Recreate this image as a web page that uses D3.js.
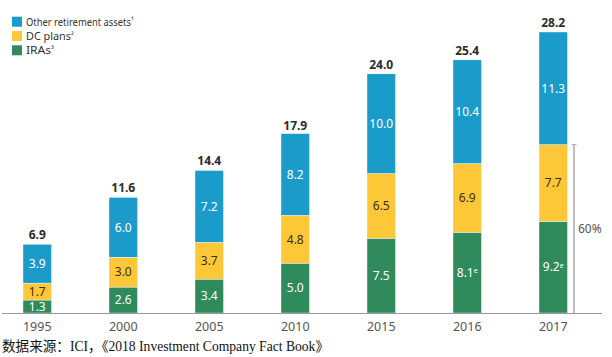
<!DOCTYPE html>
<html><head><meta charset="utf-8">
<script src="https://cdn.jsdelivr.net/npm/d3@7"></script>
<style>html,body{margin:0;padding:0;background:#fff;}svg{display:block;}</style>
</head><body>
<svg id="chart" width="612" height="357"></svg>
<script>
const years = ["1995","2000","2005","2010","2015","2016","2017"];
const iras = [1.3,2.6,3.4,5.0,7.5,8.1,9.2];
const dcPlans = [1.7,3.0,3.7,4.8,6.5,6.9,7.7];
const otherAssets = [3.9,6.0,7.2,8.2,10.0,10.4,11.3];
const totals = [6.9,11.6,14.4,17.9,24.0,25.4,28.2];
const iraNotes = ["","","","","","e","e"];
const seriesNames = ["Other retirement assets","DC plans","IRAs"];
const seriesNotes = ["¹","²","³"];
const shareLabel = "60%";
const sourceText = "数据来源：ICI，《2018 Investment Company Fact Book》";

const colors = {IRAs:"#2f8a5c", DC:"#fdc738", Other:"#1b9bc9"};
const svg = d3.select("#chart");
const font = "'Noto Sans', 'Open Sans', sans-serif";

const x = d3.scaleBand().domain(years).range([23,567.5]).paddingInner(0.6686).paddingOuter(0);
const y = d3.scaleLinear().domain([0,28.2]).range([313,32]);

const rows = years.map((yr,i)=>({year:yr, IRAs:iras[i], DC:dcPlans[i], Other:otherAssets[i], total:totals[i], note:iraNotes[i]}));
const keys = ["IRAs","DC","Other"];
const stacked = d3.stack().keys(keys)(rows);

const g = svg.append("g");
stacked.forEach(layer=>{
  const key = layer.key;
  g.selectAll(null).data(layer).enter().append("rect")
    .attr("x", d=>x(d.data.year))
    .attr("width", x.bandwidth())
    .attr("y", d=>y(d[1]))
    .attr("height", d=>y(d[0])-y(d[1]))
    .attr("fill", colors[key])
    .attr("stroke","#fff").attr("stroke-width",0.4);
  const t = g.selectAll(null).data(layer).enter().append("text")
    .attr("x", d=>x(d.data.year)+x.bandwidth()/2)
    .attr("y", d=>(y(d[0])+y(d[1]))/2)
    .attr("dy","0.36em")
    .attr("text-anchor","middle")
    .attr("font-family",font).attr("font-size",12)
    .attr("fill", key==="DC" ? "#3b2f10" : "#fff");
  t.append("tspan").text(d=>d.data[key].toFixed(1));
  if(key==="IRAs"){
    t.append("tspan").attr("font-size",7).attr("dy","-0.5em").text(d=>d.data.note);
  }
});

// totals
g.selectAll(null).data(rows).enter().append("text")
  .attr("x", d=>x(d.year)+x.bandwidth()/2)
  .attr("y", d=>y(d.total)-5)
  .attr("text-anchor","middle")
  .attr("font-family",font).attr("font-size",12).attr("font-weight","bold")
  .attr("fill","#2b2b2b")
  .text(d=>d.total.toFixed(1));

// axis
const axis = d3.axisBottom(x).tickSize(0).tickPadding(9);
const ax = svg.append("g").attr("transform","translate(0,313)").call(axis);
ax.select(".domain").remove();
ax.selectAll("text").attr("font-family",font).attr("font-size",12.5).attr("fill","#555");
svg.append("line").attr("x1",2).attr("x2",602).attr("y1",313.5).attr("y2",313.5)
  .attr("stroke","#999").attr("stroke-width",1);

// bracket for 60%
const last = rows[rows.length-1];
const bx = x(last.year)+x.bandwidth()+6.5;
svg.append("line").attr("x1",bx).attr("x2",bx).attr("y1",y(last.IRAs+last.DC)).attr("y2",313)
  .attr("stroke","#aaa").attr("stroke-width",1.5);
svg.append("line").attr("x1",bx-2.5).attr("x2",bx+2.5).attr("y1",y(last.IRAs+last.DC)).attr("y2",y(last.IRAs+last.DC))
  .attr("stroke","#aaa").attr("stroke-width",1);
svg.append("text").attr("x",bx+4).attr("y",229).attr("dy","0.36em")
  .attr("font-family",font).attr("font-size",12).attr("fill","#555").text(shareLabel);

// legend
const legKeys = ["Other","DC","IRAs"];
const legY = [21.7,36,50.3];
const legLen = [105,45,25];
legKeys.forEach((k,i)=>{
  svg.append("rect").attr("x",12).attr("y",legY[i]-5).attr("width",10).attr("height",10).attr("fill",colors[k]);
  const t = svg.append("text").attr("x",26).attr("y",legY[i]).attr("dy","0.36em")
    .attr("font-family",font).attr("font-size",11.5).attr("fill","#333");
  t.append("tspan").attr("textLength",legLen[i]).attr("lengthAdjust","spacingAndGlyphs").text(seriesNames[i]);
  t.append("tspan").attr("font-size",8).attr("dy","-0.3em").text(seriesNotes[i]);
});

// source
svg.append("text").attr("x",2).attr("y",351)
  .attr("font-family","'Liberation Serif','Noto Sans CJK SC',serif").attr("font-size",13.6).attr("fill","#111")
  .text(sourceText);
</script>
</body></html>
